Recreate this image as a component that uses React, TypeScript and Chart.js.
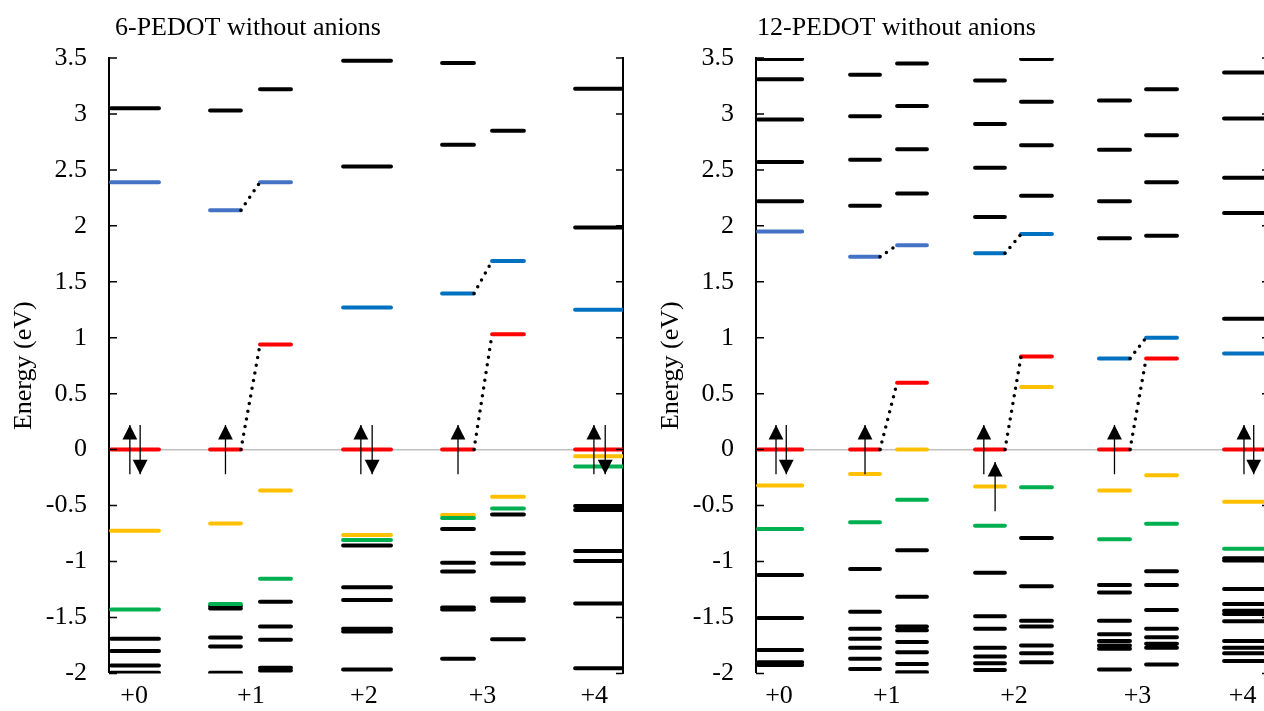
import React, { useEffect, useRef } from "react";
import { Chart, registerables } from "chart.js";

Chart.register(...registerables);

// ---------------- data ----------------
const CATEGORIES = ["+0", "+1", "+2", "+3", "+4"];
const Y_TICKS = [-2, -1.5, -1, -0.5, 0, 0.5, 1, 1.5, 2, 2.5, 3, 3.5];
const TITLE_6 = "6-PEDOT without anions";
const TITLE_12 = "12-PEDOT without anions";
const Y_TITLE = "Energy (eV)";

type Levels = { homo: number[]; lumo: number[]; homo1: number[]; homo2: number[]; other: number[] };

// 6-PEDOT: sub-columns +0, +1 alpha, +1 beta, +2, +3 alpha, +3 beta, +4 (energies in eV)
const p6_c0: Levels = { homo: [0], lumo: [2.39], homo1: [-0.725], homo2: [-1.43], other: [3.05, -1.69, -1.8, -1.93, -1.995] };
const p6_c1a: Levels = { homo: [0], lumo: [2.14], homo1: [-0.66], homo2: [-1.38], other: [3.03, -1.4, -1.42, -1.68, -1.76, -1.995] };
const p6_c1b: Levels = { homo: [0.94], lumo: [2.39], homo1: [-0.365], homo2: [-1.155], other: [3.22, -1.36, -1.58, -1.7, -1.95, -1.975] };
const p6_c2: Levels = { homo: [0], lumo: [1.27], homo1: [-0.762], homo2: [-0.808], other: [3.475, 2.53, -0.856, -1.23, -1.345, -1.6, -1.625, -1.965] };
const p6_c3a: Levels = { homo: [0], lumo: [1.395], homo1: [-0.585], homo2: [-0.612], other: [3.455, 2.725, -0.71, -1.01, -1.09, -1.41, -1.43, -1.87] };
const p6_c3b: Levels = { homo: [1.03], lumo: [1.685], homo1: [-0.422], homo2: [-0.527], other: [2.85, -0.58, -0.927, -1.017, -1.33, -1.35, -1.695] };
const p6_c4: Levels = { homo: [0], lumo: [1.25], homo1: [-0.06], homo2: [-0.15], other: [3.225, 1.985, -0.505, -0.54, -0.905, -0.995, -1.375, -1.955] };
// electrons: [sub-column, energy, spin (+1 up / -1 down)]
const p6_electrons = [[0, 0, 1], [0, 0, -1], [1, 0, 1], [3, 0, 1], [3, 0, -1], [4, 0, 1], [6, 0, 1], [6, 0, -1]];
// alpha/beta sub-column pairs joined by dotted lines
const p6_pairs = [[1, 2], [4, 5]];

// 12-PEDOT: sub-columns +0, +1 a, +1 b, +2 a, +2 b, +3 a, +3 b, +4
const p12_c0: Levels = { homo: [0], lumo: [1.95], homo1: [-0.32], homo2: [-0.71], other: [3.49, 3.31, 2.95, 2.57, 2.22, -1.12, -1.505, -1.79, -1.9, -1.925] };
const p12_c1a: Levels = { homo: [0], lumo: [1.724], homo1: [-0.218], homo2: [-0.65], other: [3.35, 2.98, 2.59, 2.18, -1.066, -1.45, -1.6, -1.69, -1.77, -1.87, -1.96] };
const p12_c1b: Levels = { homo: [0.598], lumo: [1.826], homo1: [0], homo2: [-0.447], other: [3.45, 3.07, 2.685, 2.29, -0.9, -1.315, -1.58, -1.615, -1.72, -1.81, -1.915, -1.99] };
const p12_c2a: Levels = { homo: [0], lumo: [1.754], homo1: [-0.33], homo2: [-0.68], other: [3.3, 2.91, 2.52, 2.08, -1.1, -1.49, -1.6, -1.77, -1.85, -1.91, -1.97] };
const p12_c2b: Levels = { homo: [0.832], lumo: [1.926], homo1: [0.559], homo2: [-0.336], other: [3.49, 3.11, 2.72, 2.27, -0.79, -1.22, -1.53, -1.58, -1.75, -1.82, -1.9] };
const p12_c3a: Levels = { homo: [0], lumo: [0.814], homo1: [-0.366], homo2: [-0.8], other: [3.52, 3.12, 2.68, 2.22, 1.888, -1.21, -1.277, -1.53, -1.65, -1.71, -1.75, -1.78, -1.965] };
const p12_c3b: Levels = { homo: [0.814], lumo: [1.0], homo1: [-0.23], homo2: [-0.663], other: [3.22, 2.81, 2.39, 1.911, -1.087, -1.21, -1.434, -1.6, -1.677, -1.735, -1.77, -1.92] };
const p12_c4: Levels = { homo: [0], lumo: [0.858], homo1: [-0.467], homo2: [-0.885], other: [3.37, 2.96, 2.43, 2.115, 1.17, -0.97, -0.99, -1.245, -1.38, -1.44, -1.47, -1.535, -1.71, -1.77, -1.82, -1.89] };
const p12_electrons = [[0, 0, 1], [0, 0, -1], [1, 0, 1], [3, 0, 1], [3, -0.33, 1], [5, 0, 1], [7, 0, 1], [7, 0, -1]];
const p12_pairs = [[1, 2], [3, 4], [5, 6]];

// ---------------- layout (x in axis units 0..5) ----------------
const p6_spans = [[0.02, 0.486], [0.983, 1.283], [1.469, 1.77], [2.277, 2.743], [3.24, 3.55], [3.726, 4.036], [4.534, 5]];
const p6_darkLumo = [false, false, false, true, true, true, true];
const p6_arrowDx = [-0.05, 0.05, 0, -0.06, 0.05, 0, -0.05, 0.06];
const p6_labelX = [0.245, 1.38, 2.48, 3.633, 4.72];

const p12_spans = [[0.02, 0.45], [0.917, 1.208], [1.375, 1.666], [2.135, 2.426], [2.583, 2.884], [3.343, 3.645], [3.802, 4.103], [4.562, 5]];
const p12_darkLumo = [false, false, false, true, true, true, true, true];
const p12_arrowDx = [-0.04, 0.06, 0, -0.06, 0.05, 0, -0.025, 0.07];
const p12_labelX = [0.224, 1.274, 2.515, 3.718, 4.743];

const ARROW_HALF = 0.22;
const FONT_FAMILY = '"Liberation Serif", "Times New Roman", serif';
const COLORS = {
  other: "#000000",
  homo: "#FF0000",
  homo1: "#FFC000",
  homo2: "#00B050",
  lumoLight: "#4472C4",
  lumoDark: "#0070C0",
};

type Panel = {
  title: string;
  titleDx: number;
  cols: Levels[];
  spans: number[][];
  dark: boolean[];
  pairs: number[][];
  electrons: number[][];
  arrowDx: number[];
  labelX: number[];
};

const PANEL_6: Panel = {
  title: TITLE_6,
  titleDx: 6,
  cols: [p6_c0, p6_c1a, p6_c1b, p6_c2, p6_c3a, p6_c3b, p6_c4],
  spans: p6_spans,
  dark: p6_darkLumo,
  pairs: p6_pairs,
  electrons: p6_electrons,
  arrowDx: p6_arrowDx,
  labelX: p6_labelX,
};

const PANEL_12: Panel = {
  title: TITLE_12,
  titleDx: 1,
  cols: [p12_c0, p12_c1a, p12_c1b, p12_c2a, p12_c2b, p12_c3a, p12_c3b, p12_c4],
  spans: p12_spans,
  dark: p12_darkLumo,
  pairs: p12_pairs,
  electrons: p12_electrons,
  arrowDx: p12_arrowDx,
  labelX: p12_labelX,
};

function levelPoints(p: Panel, key: keyof Levels, filter?: (i: number) => boolean) {
  const pts: any[] = [];
  p.cols.forEach((c, i) => {
    if (filter && !filter(i)) return;
    const [x0, x1] = p.spans[i];
    c[key].forEach((e) => {
      pts.push({ x: x0, y: e }, { x: x1, y: e }, { x: x1, y: null });
    });
  });
  return pts;
}

function connectorPoints(p: Panel) {
  const pts: any[] = [];
  p.pairs.forEach(([a, b]) => {
    (["homo", "lumo"] as (keyof Levels)[]).forEach((k) => {
      pts.push({ x: p.spans[a][1], y: p.cols[a][k][0] }, { x: p.spans[b][0], y: p.cols[b][k][0] }, { x: p.spans[b][0], y: null });
    });
  });
  return pts;
}

function arrowX(p: Panel, k: number) {
  const col = p.electrons[k][0];
  const [x0, x1] = p.spans[col];
  return (x0 + x1) / 2 + p.arrowDx[k];
}

function shaftPoints(p: Panel) {
  const pts: any[] = [];
  p.electrons.forEach(([, e, spin], k) => {
    const x = arrowX(p, k);
    pts.push({ x, y: e - spin * ARROW_HALF }, { x, y: e + spin * ARROW_HALF }, { x, y: null });
  });
  return pts;
}

function lineDs(data: any[], color: string, order: number, extra: any = {}) {
  return {
    type: "line",
    data,
    borderColor: color,
    backgroundColor: color,
    borderWidth: 4,
    borderCapStyle: "round",
    pointRadius: 0,
    pointHoverRadius: 0,
    spanGaps: false,
    fill: false,
    tension: 0,
    order,
    ...extra,
  };
}

function decorPlugin(p: Panel) {
  return {
    id: "decor",
    afterDatasetsDraw(chart: any) {
      const { ctx } = chart;
      const xs = chart.scales.x;
      const ys = chart.scales.y;
      ctx.save();
      ctx.fillStyle = "#000";
      p.electrons.forEach(([, e, spin], k) => {
        const px = xs.getPixelForValue(arrowX(p, k));
        const tip = ys.getPixelForValue(e + spin * ARROW_HALF);
        const h = 14.5;
        ctx.beginPath();
        ctx.moveTo(px, tip);
        ctx.lineTo(px - 7.4, tip + spin * h);
        ctx.lineTo(px + 7.4, tip + spin * h);
        ctx.closePath();
        ctx.fill();
      });
      ctx.restore();
    },
    afterDraw(chart: any) {
      const { ctx, chartArea } = chart;
      const ys = chart.scales.y;
      ctx.save();
      ctx.strokeStyle = "#000";
      ctx.lineWidth = 1.5;
      Y_TICKS.forEach((v) => {
        const y = ys.getPixelForValue(v);
        ctx.beginPath();
        ctx.moveTo(chartArea.left, y);
        ctx.lineTo(chartArea.left + 8, y);
        ctx.moveTo(chartArea.right - 7, y);
        ctx.lineTo(chartArea.right, y);
        ctx.stroke();
      });
      ctx.fillStyle = "#000";
      ctx.font = `26px ${FONT_FAMILY}`;
      ctx.textAlign = "left";
      ctx.textBaseline = "alphabetic";
      ctx.fillText(p.title, chartArea.left + p.titleDx, 35);
      ctx.restore();
    },
  };
}

function buildConfig(p: Panel): any {
  const font = { family: FONT_FAMILY, size: 26 };
  const datasets = [
    lineDs(shaftPoints(p), "#000000", 0, { borderWidth: 1.3, borderCapStyle: "butt" }),
    lineDs(connectorPoints(p), "#000000", 1, { borderWidth: 3.5, borderDash: [0, 7.8] }),
    lineDs(levelPoints(p, "homo"), COLORS.homo, 2),
    lineDs(levelPoints(p, "lumo", (i) => !p.dark[i]), COLORS.lumoLight, 3),
    lineDs(levelPoints(p, "lumo", (i) => p.dark[i]), COLORS.lumoDark, 3),
    lineDs(levelPoints(p, "homo2"), COLORS.homo2, 4),
    lineDs(levelPoints(p, "homo1"), COLORS.homo1, 5),
    lineDs(levelPoints(p, "other"), COLORS.other, 6),
  ];
  return {
    type: "line",
    data: { datasets },
    options: {
      animation: false,
      responsive: false,
      devicePixelRatio: 1,
      events: [],
      layout: { padding: { top: 58, left: 0, right: 0, bottom: 0 } },
      plugins: { legend: { display: false }, tooltip: { enabled: false }, title: { display: false } },
      scales: {
        x: {
          type: "linear",
          position: "bottom",
          min: 0,
          max: 5,
          grid: { display: false, drawTicks: false },
          border: { display: false },
          afterBuildTicks: (s: any) => {
            s.ticks = p.labelX.map((v) => ({ value: v }));
          },
          afterFit: (s: any) => {
            s.height = 34;
          },
          ticks: {
            autoSkip: false,
            maxRotation: 0,
            padding: 7,
            color: "#000",
            font,
            callback: (_v: any, i: number) => CATEGORIES[i],
          },
        },
        y: {
          type: "linear",
          position: "left",
          min: -2,
          max: 3.5,
          afterBuildTicks: (s: any) => {
            s.ticks = Y_TICKS.map((v) => ({ value: v }));
          },
          afterFit: (s: any) => {
            s.width = 109;
          },
          grid: {
            drawTicks: false,
            color: (c: any) => (c.tick && c.tick.value === 0 ? "#C0C0C0" : "rgba(0,0,0,0)"),
            lineWidth: (c: any) => (c.tick && c.tick.value === 0 ? 1.5 : 0),
          },
          border: { display: true, color: "#000", width: 2 },
          ticks: {
            padding: 22,
            color: "#000",
            font,
            callback: (v: any) => String(v),
          },
          title: {
            display: true,
            text: Y_TITLE,
            color: "#000",
            font,
            padding: { top: 9, bottom: 0 },
          },
        },
        y2: {
          type: "linear",
          position: "right",
          min: -2,
          max: 3.5,
          grid: { display: false, drawTicks: false, drawOnChartArea: false },
          border: { display: true, color: "#000", width: 2 },
          ticks: { display: false },
          afterFit: (s: any) => {
            s.width = 17;
          },
        },
      },
    },
    plugins: [decorPlugin(p)],
  };
}

function PanelChart({ panel, left, width }: { panel: Panel; left: number; width: number }) {
  const ref = useRef<HTMLCanvasElement>(null);
  useEffect(() => {
    const chart = new Chart(ref.current as HTMLCanvasElement, buildConfig(panel));
    return () => chart.destroy();
  }, [panel]);
  return (
    <canvas
      ref={ref}
      width={width}
      height={711}
      style={{ position: "absolute", left, top: 0, width, height: 711 }}
    />
  );
}

export default function App() {
  return (
    <div
      style={{
        position: "fixed",
        left: 0,
        top: 0,
        width: 1264,
        height: 711,
        overflow: "hidden",
        background: "#ffffff",
      }}
    >
      <PanelChart panel={PANEL_6} left={0} width={640} />
      <PanelChart panel={PANEL_12} left={647} width={639} />
    </div>
  );
}
